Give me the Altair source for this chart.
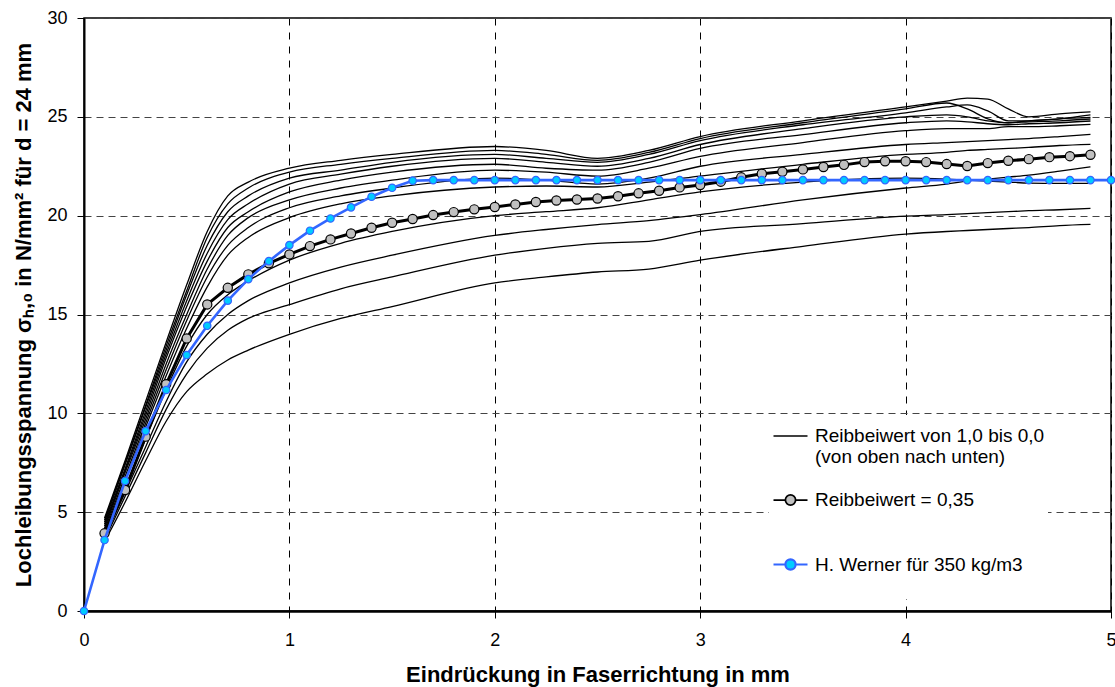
import altair as alt
import pandas as pd

# ---------------- data ----------------
S_THIN = "Reibbeiwert von 1,0 bis 0,0"
S_MU = "Reibbeiwert = 0,35"
S_W = "H. Werner für 350 kg/m3"
SERIES = [S_THIN, S_MU, S_W]

X_THIN = [0.1, 0.2, 0.3, 0.4, 0.5, 0.6, 0.7, 0.8, 1.0, 1.25, 1.5, 2.0, 2.25, 2.5,
          2.75, 3.0, 3.5, 4.0, 4.2, 4.3, 4.4, 4.5, 4.6, 4.75, 4.9]

THIN_CURVES = [
    [4.7, 7.6, 10.6, 13.6, 16.5, 19.2, 21.0, 21.7, 22.4, 22.8, 23.1, 23.5, 23.3, 22.9, 23.3, 24.0, 24.8, 25.5, 25.8, 25.95, 25.9, 25.4, 25.0, 25.15, 25.25],
    [4.6, 7.5, 10.4, 13.4, 16.2, 18.9, 20.6, 21.4, 22.2, 22.6, 22.9, 23.3, 23.1, 22.8, 23.2, 23.9, 24.7, 25.4, 25.7, 25.4, 24.9, 24.7, 24.8, 24.9, 25.1],
    [4.5, 7.4, 10.3, 13.2, 16.0, 18.5, 20.2, 21.0, 21.9, 22.3, 22.7, 23.1, 22.9, 22.7, 23.1, 23.8, 24.6, 25.2, 25.5, 25.6, 25.3, 24.8, 24.8, 24.9, 24.97],
    [4.4, 7.2, 10.1, 13.0, 15.7, 18.1, 19.8, 20.6, 21.6, 22.1, 22.5, 22.9, 22.7, 22.5, 22.9, 23.6, 24.4, 25.0, 25.1, 25.0, 24.8, 24.7, 24.75, 24.8, 24.89],
    [4.3, 7.1, 9.9, 12.8, 15.4, 17.7, 19.4, 20.2, 21.2, 21.8, 22.2, 22.6, 22.4, 22.3, 22.7, 23.4, 24.1, 24.7, 24.8, 24.75, 24.65, 24.6, 24.65, 24.7, 24.79],
    [4.2, 7.0, 9.7, 12.5, 15.0, 17.3, 19.0, 19.9, 20.8, 21.4, 21.8, 22.3, 22.2, 22.0, 22.4, 23.0, 23.7, 24.3, 24.4, 24.4, 24.4, 24.5, 24.5, 24.55, 24.62],
    [4.1, 6.8, 9.5, 12.2, 14.7, 16.9, 18.5, 19.4, 20.4, 21.0, 21.4, 21.9, 21.8, 21.6, 21.9, 22.5, 23.1, 23.6, 23.7, 23.75, 23.8, 23.85, 23.9, 24.0, 24.11],
    [4.0, 6.6, 9.3, 11.9, 14.3, 16.4, 18.0, 18.9, 19.9, 20.6, 21.0, 21.45, 21.5, 21.45, 21.7, 22.0, 22.6, 23.1, 23.2, 23.3, 23.35, 23.4, 23.45, 23.55, 23.61],
    [3.8, 6.2, 8.7, 11.2, 13.4, 15.0, 16.0, 16.7, 17.75, 18.6, 19.2, 20.0, 20.2, 20.4, 20.8, 21.2, 21.7, 21.9, 21.85, 21.8, 21.75, 21.7, 21.65, 21.63, 21.63],
    [3.7, 6.0, 8.3, 10.6, 12.6, 14.0, 15.0, 15.7, 16.6, 17.4, 18.0, 19.0, 19.3, 19.55, 19.75, 20.05, 20.8, 21.4, 21.6, 21.75, 21.85, 21.95, 22.05, 22.25, 22.47],
    [3.6, 5.8, 8.0, 10.2, 12.0, 13.3, 14.2, 14.8, 15.5, 16.3, 16.9, 18.0, 18.35, 18.6, 18.7, 19.2, 19.6, 19.98, 20.05, 20.1, 20.15, 20.2, 20.25, 20.3, 20.37],
    [3.5, 5.5, 7.6, 9.6, 11.1, 12.0, 12.7, 13.2, 14.0, 14.8, 15.4, 16.6, 16.9, 17.15, 17.3, 17.75, 18.45, 19.07, 19.2, 19.25, 19.3, 19.35, 19.4, 19.5, 19.56],
]

X_MU = [0.1, 0.2, 0.3, 0.4, 0.5, 0.6, 0.7, 0.8, 0.9, 1.0, 1.1, 1.2, 1.3, 1.4, 1.5, 1.6, 1.7,
        1.8, 1.9, 2.0, 2.1, 2.2, 2.3, 2.4, 2.5, 2.6, 2.7, 2.8, 2.9, 3.0, 3.1, 3.2, 3.3, 3.4,
        3.5, 3.6, 3.7, 3.8, 3.9, 4.0, 4.1, 4.2, 4.3, 4.4, 4.5, 4.6, 4.7, 4.8, 4.9]
Y_MU = [3.93, 6.12, 8.82, 11.47, 13.79, 15.51, 16.35, 17.03, 17.59, 18.04, 18.46, 18.8, 19.1,
        19.39, 19.64, 19.83, 20.03, 20.18, 20.32, 20.44, 20.57, 20.69, 20.77, 20.82, 20.87,
        20.98, 21.13, 21.26, 21.43, 21.55, 21.72, 21.94, 22.12, 22.22, 22.34, 22.46, 22.57,
        22.71, 22.75, 22.75, 22.71, 22.61, 22.51, 22.66, 22.78, 22.86, 22.96, 23.01, 23.08]

X_W = [0.0, 0.1, 0.2, 0.3, 0.4, 0.5, 0.6, 0.7, 0.8, 0.9, 1.0, 1.1, 1.2, 1.3, 1.4, 1.5, 1.6,
       1.7, 1.8, 1.9, 2.0, 2.1, 2.2, 2.3, 2.4, 2.5, 2.6, 2.7, 2.8, 2.9, 3.0, 3.1, 3.2, 3.3,
       3.4, 3.5, 3.6, 3.7, 3.8, 3.9, 4.0, 4.1, 4.2, 4.3, 4.4, 4.5, 4.6, 4.7, 4.8, 4.9, 5.0]
Y_W = [0.0, 3.59, 6.58, 9.1, 11.18, 12.95, 14.43, 15.7, 16.79, 17.7, 18.51, 19.24, 19.86,
       20.42, 20.96, 21.41, 21.77, 21.8, 21.8, 21.8, 21.8, 21.8, 21.8, 21.8, 21.8, 21.8,
       21.8, 21.8, 21.8, 21.8, 21.8, 21.8, 21.8, 21.8, 21.8, 21.8, 21.8, 21.8, 21.8, 21.8,
       21.8, 21.8, 21.8, 21.8, 21.8, 21.8, 21.8, 21.8, 21.8, 21.8, 21.8]

X_TICKS = [0, 1, 2, 3, 4, 5]
Y_TICKS = [0, 5, 10, 15, 20, 25, 30]

# ---------------- frames ----------------
rows = []
for i, ys in enumerate(THIN_CURVES):
    for x, y in zip(X_THIN, ys):
        rows.append({"x": x, "y": y, "curve": f"c{i}"})
thin_df = pd.DataFrame(rows)
mu_df = pd.DataFrame({"x": X_MU, "y": Y_MU})
w_df = pd.DataFrame({"x": X_W, "y": Y_W})
leg_df = pd.DataFrame({"x": [0.0, 0.0, 0.0], "y": [0.0, 0.0, 0.0], "series": SERIES})

FONT = "Liberation Sans"

x_enc = alt.X(
    "x:Q",
    scale=alt.Scale(domain=[0, 5], nice=False, zero=False),
    axis=alt.Axis(
        values=X_TICKS, title="Eindrückung in Faserrichtung in mm",
        grid=True, gridDash=[7, 7], gridColor="#000000", gridWidth=1,
        tickSize=7, tickColor="black", tickWidth=1,
        domainColor="black", domainWidth=2.5,
        labelFont=FONT, labelFontSize=18, labelColor="black", labelPadding=13,
        labelFlush=False,
        titleFont=FONT, titleFontSize=22, titleFontWeight="bold", titleColor="black",
        titleBaseline="middle", titleY=63, titleX=513.5,
    ),
)
y_enc = alt.Y(
    "y:Q",
    scale=alt.Scale(domain=[0, 30], nice=False),
    axis=alt.Axis(
        values=Y_TICKS, title="Lochleibungsspannung σₕ,₀ in N/mm² für d = 24 mm",
        grid=True, gridDash=[7, 5], gridColor="#444444", gridWidth=1,
        tickSize=7, tickColor="black", tickWidth=1,
        domainColor="black", domainWidth=2,
        labelFont=FONT, labelFontSize=18, labelColor="black", labelPadding=10,
        labelFlush=False,
        titleFont=FONT, titleFontSize=22, titleFontWeight="bold", titleColor="black",
        titleAngle=-90, titleBaseline="middle", titleAlign="center",
        titleX=-61, titleY=296.5,
    ),
)

LINE_SYM = "M-1,0H1"
CIRC_SYM = "M-1,0H-0.3M0.3,0H1M0.3,0A0.3,0.3,0,1,1,-0.3,0A0.3,0.3,0,1,1,0.3,0Z"

legend = alt.Legend(
    orient="none", legendX=685, legendY=397, direction="vertical",
    fillColor="white", padding=3,
    labelFont=FONT, labelFontSize=19, labelColor="black", labelLimit=600,
    symbolSize=1156, rowPadding=15, labelOffset=6,
    symbolFillColor="transparent", symbolStrokeColor="black", symbolOpacity=1,
    labelExpr=(f"datum.label == '{S_THIN}' ? ['{S_THIN}', '(von oben nach unten)'] "
               ": [datum.label, '']"),
)

thin = alt.Chart(thin_df).mark_line(strokeWidth=1.3, color="black", interpolate="monotone").encode(
    x=x_enc, y=y_enc, detail="curve:N",
)
mu_line = alt.Chart(mu_df).mark_line(strokeWidth=3, color="black").encode(x=x_enc, y=y_enc)
mu_pts = alt.Chart(mu_df).mark_circle(
    size=85, fill="#C0C0C0", stroke="black", strokeWidth=1.2, opacity=1
).encode(x=x_enc, y=y_enc)
w_line = alt.Chart(w_df).mark_line(strokeWidth=2.6, color="#3366FF").encode(x=x_enc, y=y_enc)
w_pts = alt.Chart(w_df).mark_circle(
    size=55, fill="#00CCFF", stroke="#3366FF", strokeWidth=1.2, opacity=1
).encode(x=x_enc, y=y_enc)

# legend-only layer (draws no marks: all rows filtered out)
leg = alt.Chart(leg_df).mark_point(filled=False, opacity=1).encode(
    x=x_enc, y=y_enc,
    color=alt.Color("series:N", scale=alt.Scale(domain=SERIES, range=["black", "black", "#3366FF"]),
                    legend=legend, title=None),
    fill=alt.Fill("series:N", scale=alt.Scale(domain=SERIES, range=["transparent", "#C0C0C0", "#00CCFF"]),
                  legend=legend, title=None),
    shape=alt.Shape("series:N", scale=alt.Scale(domain=SERIES, range=[LINE_SYM, CIRC_SYM, CIRC_SYM]),
                    legend=legend, title=None),
    strokeWidth=alt.StrokeWidth("series:N", scale=alt.Scale(domain=SERIES, range=[1.3, 2.2, 2.2]),
                                legend=legend, title=None),
).transform_filter("datum.x > 100")

chart = alt.layer(thin, mu_line, mu_pts, w_line, w_pts, leg).properties(
    width=1027, height=593,
    padding={"left": 84, "top": 18, "right": 4, "bottom": 76},
    autosize=alt.AutoSizeParams(type="none"),
    background="white",
).configure_view(stroke="black", strokeWidth=1.5)

chart.save("out.html", embed_options={"renderer": "svg", "actions": False})
